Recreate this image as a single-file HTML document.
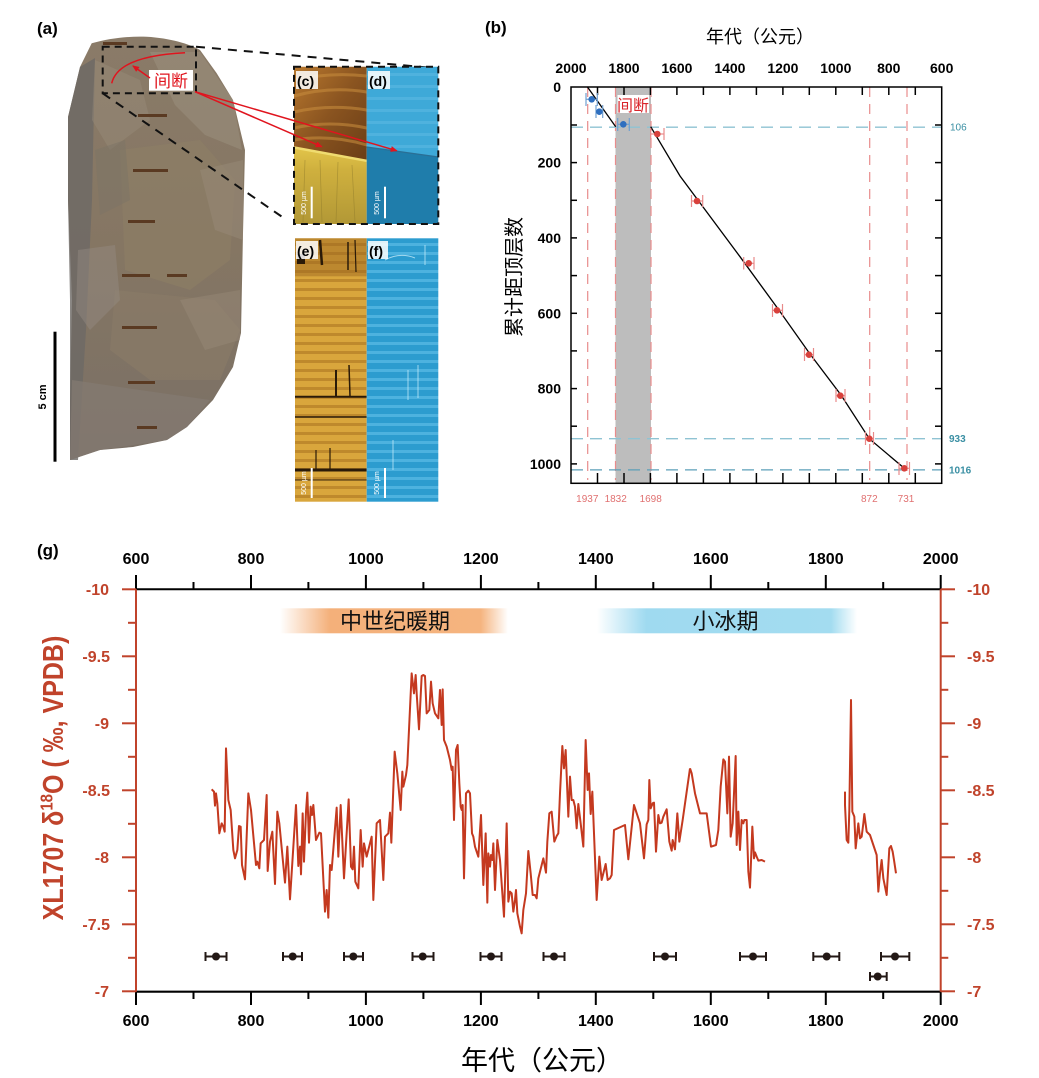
<!DOCTYPE html>
<html>
<head>
<meta charset="utf-8">
<style>
html,body{margin:0;padding:0;background:#fff;}
svg{display:block;}
text{font-family:"Liberation Sans","Noto Sans CJK SC",sans-serif;}
</style>
</head>
<body>
<svg width="1039" height="1078" viewBox="0 0 1039 1078" xmlns="http://www.w3.org/2000/svg">
<defs>
  <linearGradient id="stal" x1="0" y1="0" x2="0" y2="1">
    <stop offset="0" stop-color="#8a7b68"/>
    <stop offset="0.5" stop-color="#857663"/>
    <stop offset="1" stop-color="#7a7066"/>
  </linearGradient>
  <linearGradient id="mwp" x1="0" y1="0" x2="1" y2="0">
    <stop offset="0" stop-color="#f4b07a" stop-opacity="0"/>
    <stop offset="0.22" stop-color="#f4b07a" stop-opacity="1"/>
    <stop offset="0.88" stop-color="#f5b47f" stop-opacity="1"/>
    <stop offset="1" stop-color="#f5b47f" stop-opacity="0"/>
  </linearGradient>
  <linearGradient id="lia" x1="0" y1="0" x2="1" y2="0">
    <stop offset="0" stop-color="#9fdaf0" stop-opacity="0"/>
    <stop offset="0.19" stop-color="#9fdaf0" stop-opacity="1"/>
    <stop offset="0.9" stop-color="#a3dcf0" stop-opacity="1"/>
    <stop offset="1" stop-color="#a3dcf0" stop-opacity="0"/>
  </linearGradient>
  <linearGradient id="cyel" x1="0" y1="0" x2="0" y2="1">
    <stop offset="0" stop-color="#e3c54a"/>
    <stop offset="0.3" stop-color="#cfb03e"/>
    <stop offset="1" stop-color="#b29836"/>
  </linearGradient>
  <linearGradient id="ctop" x1="0" y1="0" x2="1" y2="1">
    <stop offset="0" stop-color="#b8782e"/>
    <stop offset="0.5" stop-color="#8a5420"/>
    <stop offset="1" stop-color="#6b3e16"/>
  </linearGradient>
  <pattern id="estripe" x="0" y="238" width="20" height="9" patternUnits="userSpaceOnUse">
    <rect x="0" y="0" width="20" height="9" fill="#d9a63c"/>
    <rect x="0" y="5" width="20" height="3" fill="#a8701e" opacity="0.55"/>
  </pattern>
  <pattern id="fstripe" x="0" y="238" width="20" height="9" patternUnits="userSpaceOnUse">
    <rect x="0" y="0" width="20" height="9" fill="#2c9ccf"/>
    <rect x="0" y="5" width="20" height="3" fill="#5bbde6" opacity="0.7"/>
  </pattern>
  <pattern id="dstripe" x="0" y="66" width="20" height="12" patternUnits="userSpaceOnUse">
    <rect x="0" y="0" width="20" height="12" fill="#3ea9d8"/>
    <rect x="0" y="7" width="20" height="3" fill="#5ab8e2" opacity="0.6"/>
  </pattern>
  <marker id="arr" markerWidth="8" markerHeight="8" refX="6" refY="3" orient="auto" markerUnits="userSpaceOnUse">
    <path d="M0,0 L7,3 L0,6 Z" fill="#e0141e"/>
  </marker>
</defs>

<!-- ================= PANEL (a) ================= -->
<text x="37" y="34" font-size="17" font-weight="bold" fill="#000">(a)</text>

<path d="M91.7,43.3 C110,38 130,36 146.7,36.7 C170,38 190,44 200,50 L216.7,73.3 L233,100 L245,150 L243,233 L241,333 L233,367 L213,400 L187,427 L167,440 L133,447 L100,450 L70,460 L70,400 L72,300 L68,200 L68,117 L80,67 Z" fill="url(#stal)"/>
<!-- facets -->
<path d="M150,52 L200,52 L233,100 L242,150 L205,135 L175,105 Z" fill="#a09483" opacity="0.45"/>
<path d="M68,117 L80,67 L95,58 L92,200 L86,330 L78,460 L70,460 L70,300 L68,200 Z" fill="#6d6965" opacity="0.8"/>
<path d="M120,150 L200,140 L235,180 L230,260 L190,290 L125,270 Z" fill="#8e7e66" opacity="0.6"/>
<path d="M115,290 L215,300 L240,330 L220,380 L150,380 L110,350 Z" fill="#8a7c68" opacity="0.6"/>
<path d="M72,380 L140,390 L210,400 L187,427 L167,440 L100,450 L70,460 Z" fill="#857b72" opacity="0.7"/>
<path d="M95,60 L140,80 L150,120 L110,150 L92,120 Z" fill="#9a8e7d" opacity="0.4"/>
<path d="M200,170 L243,160 L243,240 L215,230 Z" fill="#978a78" opacity="0.5"/>
<path d="M78,250 L115,245 L120,300 L90,330 L76,310 Z" fill="#948b82" opacity="0.45"/>
<path d="M180,300 L240,290 L240,340 L205,350 Z" fill="#9a8d7b" opacity="0.4"/>
<path d="M95,150 L125,140 L130,200 L100,215 Z" fill="#7c7366" opacity="0.5"/>
<!-- slits -->
<g fill="#5a3a22">
  <rect x="103" y="42" width="24" height="3"/>
  <rect x="138" y="114" width="29" height="3"/>
  <rect x="133" y="169" width="35" height="3"/>
  <rect x="128" y="220" width="27" height="3"/>
  <rect x="122" y="274" width="28" height="3"/>
  <rect x="167" y="274" width="20" height="3"/>
  <rect x="122" y="326" width="35" height="3"/>
  <rect x="128" y="381" width="27" height="3"/>
  <rect x="137" y="426" width="20" height="3"/>
</g>
<!-- dashed rect & zoom lines -->
<rect x="102.7" y="46.7" width="93.3" height="46.6" fill="none" stroke="#111" stroke-width="2" stroke-dasharray="7,5"/>
<line x1="196" y1="46.7" x2="436.7" y2="68.3" stroke="#111" stroke-width="2" stroke-dasharray="9,7"/>
<line x1="102.7" y1="93.3" x2="286.7" y2="220" stroke="#111" stroke-width="2" stroke-dasharray="9,7"/>
<!-- red curve -->
<path d="M111.7,83.3 Q118,56 185,52.7" fill="none" stroke="#e0141e" stroke-width="1.5"/>
<rect x="149" y="70" width="44" height="20.7" fill="#fff"/>
<text x="171" y="87" font-size="17" fill="#e0141e" text-anchor="middle">间断</text>
<line x1="150" y1="78" x2="133" y2="66" stroke="#e0141e" stroke-width="1.5" marker-end="url(#arr)"/>

<!-- scale bar -->
<rect x="53.5" y="331.7" width="3" height="130" fill="#000"/>
<text transform="translate(46,397) rotate(-90)" font-size="11" font-weight="bold" text-anchor="middle" fill="#000">5 cm</text>

<!-- panel c -->
<polygon points="294,66.7 366.7,66.7 366.7,160 294,146.7" fill="url(#ctop)"/>
<g fill="none" stroke="#c58a3c" stroke-width="3" opacity="0.6">
  <path d="M294,80 Q330,72 366.7,76"/>
  <path d="M294,96 Q330,86 366.7,92"/>
  <path d="M294,112 Q330,104 366.7,110"/>
  <path d="M294,128 Q330,120 366.7,128"/>
  <path d="M294,140 Q330,134 366.7,145"/>
</g>
<polygon points="294,146.7 366.7,160 366.7,224 294,224" fill="url(#cyel)"/>
<line x1="294" y1="147.5" x2="366.7" y2="160.8" stroke="#f0dc70" stroke-width="2.5"/>
<g stroke="#8e7a2a" stroke-width="0.8" opacity="0.5">
  <line x1="305" y1="160" x2="303" y2="222"/>
  <line x1="320" y1="160" x2="322" y2="222"/>
  <line x1="338" y1="162" x2="336" y2="222"/>
  <line x1="352" y1="165" x2="355" y2="222"/>
</g>
<!-- panel d -->
<polygon points="366.7,66.7 438.3,66.7 438.3,156.7 366.7,146.7" fill="url(#dstripe)"/>
<polygon points="366.7,146.7 438.3,156.7 438.3,224 366.7,224" fill="#1f7dab"/>
<line x1="366.7" y1="147" x2="438.3" y2="157" stroke="#2a6f95" stroke-width="1.2"/>
<rect x="294" y="66.7" width="144.3" height="157.3" fill="none" stroke="#111" stroke-width="2" stroke-dasharray="7,5"/>
<!-- scale bars c,d -->
<line x1="311.7" y1="186.7" x2="311.7" y2="218.3" stroke="#fff" stroke-width="2"/>
<text transform="translate(306,203) rotate(-90)" font-size="7" fill="#fff" text-anchor="middle">500 µm</text>
<line x1="385" y1="186.7" x2="385" y2="218.3" stroke="#fff" stroke-width="2"/>
<text transform="translate(379,203) rotate(-90)" font-size="7" fill="#fff" text-anchor="middle">500 µm</text>
<!-- labels c,d -->
<rect x="296" y="71" width="22" height="18" fill="#fff" opacity="0.85"/>
<text x="297" y="86" font-size="14" font-weight="bold" fill="#000">(c)</text>
<rect x="368" y="71" width="22" height="18" fill="#fff" opacity="0.85"/>
<text x="369" y="86" font-size="14" font-weight="bold" fill="#000">(d)</text>
<!-- red arrows to c, d -->
<line x1="195" y1="91.7" x2="321.7" y2="146.7" stroke="#e0141e" stroke-width="1.5" marker-end="url(#arr)"/>
<line x1="195" y1="91.7" x2="396.7" y2="150.7" stroke="#e0141e" stroke-width="1.5" marker-end="url(#arr)"/>

<!-- panel e -->
<rect x="295" y="238.3" width="71.7" height="263.4" fill="url(#estripe)"/>
<rect x="295" y="238.3" width="71.7" height="38" fill="#9a6420" opacity="0.45"/>
<g stroke="#2a1a08">
  <line x1="295" y1="396.7" x2="366.7" y2="396.7" stroke-width="2"/>
  <line x1="295" y1="417" x2="366.7" y2="417" stroke-width="1.5"/>
  <line x1="295" y1="470" x2="366.7" y2="470" stroke-width="3"/>
  <line x1="295" y1="480" x2="366.7" y2="480" stroke-width="1.5" opacity="0.6"/>
  <line x1="320" y1="240" x2="322" y2="265" stroke-width="2.5"/>
  <line x1="348" y1="242" x2="348" y2="270" stroke-width="1.5"/>
  <line x1="355" y1="240" x2="356" y2="272" stroke-width="1.2"/>
  <line x1="336" y1="370" x2="336" y2="396" stroke-width="2"/>
  <line x1="349" y1="365" x2="350" y2="396" stroke-width="1.5"/>
  <line x1="316" y1="450" x2="316" y2="470" stroke-width="1.2"/>
  <line x1="330" y1="448" x2="330" y2="470" stroke-width="1.2"/>
</g>
<rect x="297" y="254" width="8" height="10" fill="#2a1a08"/>
<!-- panel f -->
<rect x="366.7" y="238.3" width="71.6" height="263.4" fill="url(#fstripe)"/>
<g stroke="#bfe8f8" stroke-width="1" opacity="0.8">
  <path d="M385,260 Q400,252 415,258" fill="none"/>
  <line x1="425" y1="245" x2="425" y2="265"/>
  <line x1="408" y1="370" x2="408" y2="400"/>
  <line x1="418" y1="365" x2="418" y2="398"/>
  <line x1="393" y1="440" x2="393" y2="470"/>
</g>
<!-- scale bars e,f -->
<line x1="311.7" y1="468" x2="311.7" y2="498" stroke="#fff" stroke-width="2"/>
<text transform="translate(306,483) rotate(-90)" font-size="7" fill="#fff" text-anchor="middle">500 µm</text>
<line x1="385" y1="468" x2="385" y2="498" stroke="#fff" stroke-width="2"/>
<text transform="translate(379,483) rotate(-90)" font-size="7" fill="#fff" text-anchor="middle">500 µm</text>
<rect x="296" y="241" width="22" height="18" fill="#fff" opacity="0.85"/>
<text x="297" y="256" font-size="14" font-weight="bold" fill="#000">(e)</text>
<rect x="368" y="241" width="20" height="18" fill="#fff" opacity="0.85"/>
<text x="369" y="256" font-size="14" font-weight="bold" fill="#000">(f)</text>

<!-- ================= PANEL (b) ================= -->
<text x="485" y="33" font-size="17" font-weight="bold" fill="#000">(b)</text>
<text x="760" y="43" font-size="18" text-anchor="middle" fill="#000">年代（公元）</text>
<text transform="translate(521,277) rotate(-90)" font-size="20" text-anchor="middle" fill="#000">累计距顶层数</text>

<!-- gray band -->
<rect x="615.5" y="87" width="35.5" height="396" fill="#bdbdbd"/>
<rect x="617.5" y="95" width="31.5" height="18" fill="#fff"/>
<text x="633" y="111" font-size="16" fill="#d9242a" text-anchor="middle">间断</text>

<!-- pink dashed verticals -->
<g stroke="#e88c8c" stroke-width="1.2" stroke-dasharray="10,7">
  <line x1="587.7" y1="87" x2="587.7" y2="480"/>
  <line x1="615.5" y1="87" x2="615.5" y2="480"/>
  <line x1="651" y1="87" x2="651" y2="480"/>
  <line x1="869.7" y1="87" x2="869.7" y2="480"/>
  <line x1="907" y1="87" x2="907" y2="480"/>
</g>
<!-- blue dashed horizontals -->
<g stroke-width="1.3" stroke-dasharray="12,7">
  <line x1="571" y1="127.2" x2="941.7" y2="127.2" stroke="#8fc3d3"/>
  <line x1="571" y1="438.7" x2="941.7" y2="438.7" stroke="#8fc3d3"/>
  <line x1="571" y1="469.9" x2="941.7" y2="469.9" stroke="#5c9fb8"/>
</g>
<text x="950" y="130.5" font-size="10" fill="#3a8fa3">106</text>
<text x="949" y="442" font-size="10" font-weight="bold" fill="#3a8fa3">933</text>
<text x="949" y="473.5" font-size="10" font-weight="bold" fill="#3a8fa3">1016</text>

<!-- axes box -->
<rect x="571" y="87" width="370.7" height="396.3" fill="none" stroke="#000" stroke-width="1.5"/>
<g stroke="#000" stroke-width="1.5">
  <line x1="597.5" y1="87" x2="597.5" y2="95"/><line x1="624" y1="87" x2="624" y2="95"/>
  <line x1="650.4" y1="87" x2="650.4" y2="95"/><line x1="676.9" y1="87" x2="676.9" y2="95"/>
  <line x1="703.4" y1="87" x2="703.4" y2="95"/><line x1="729.9" y1="87" x2="729.9" y2="95"/>
  <line x1="756.4" y1="87" x2="756.4" y2="95"/><line x1="782.9" y1="87" x2="782.9" y2="95"/>
  <line x1="809.3" y1="87" x2="809.3" y2="95"/><line x1="835.8" y1="87" x2="835.8" y2="95"/>
  <line x1="862.3" y1="87" x2="862.3" y2="95"/><line x1="888.8" y1="87" x2="888.8" y2="95"/>
  <line x1="915.3" y1="87" x2="915.3" y2="95"/>
  <line x1="597.5" y1="483" x2="597.5" y2="473"/><line x1="624" y1="483" x2="624" y2="473"/>
  <line x1="650.4" y1="483" x2="650.4" y2="473"/><line x1="676.9" y1="483" x2="676.9" y2="473"/>
  <line x1="703.4" y1="483" x2="703.4" y2="473"/><line x1="729.9" y1="483" x2="729.9" y2="473"/>
  <line x1="756.4" y1="483" x2="756.4" y2="473"/><line x1="782.9" y1="483" x2="782.9" y2="473"/>
  <line x1="809.3" y1="483" x2="809.3" y2="473"/><line x1="835.8" y1="483" x2="835.8" y2="473"/>
  <line x1="862.3" y1="483" x2="862.3" y2="473"/><line x1="888.8" y1="483" x2="888.8" y2="473"/>
  <line x1="915.3" y1="483" x2="915.3" y2="473"/>
  <line x1="571" y1="125" x2="577" y2="125"/><line x1="571" y1="162.6" x2="577" y2="162.6"/>
  <line x1="571" y1="200.3" x2="577" y2="200.3"/><line x1="571" y1="237.9" x2="577" y2="237.9"/>
  <line x1="571" y1="275.6" x2="577" y2="275.6"/><line x1="571" y1="313.3" x2="577" y2="313.3"/>
  <line x1="571" y1="350.9" x2="577" y2="350.9"/><line x1="571" y1="388.6" x2="577" y2="388.6"/>
  <line x1="571" y1="426.2" x2="577" y2="426.2"/><line x1="571" y1="463.9" x2="577" y2="463.9"/>
  <line x1="941.7" y1="125" x2="935" y2="125"/><line x1="941.7" y1="162.6" x2="935" y2="162.6"/>
  <line x1="941.7" y1="200.3" x2="935" y2="200.3"/><line x1="941.7" y1="237.9" x2="935" y2="237.9"/>
  <line x1="941.7" y1="275.6" x2="935" y2="275.6"/><line x1="941.7" y1="313.3" x2="935" y2="313.3"/>
  <line x1="941.7" y1="350.9" x2="935" y2="350.9"/><line x1="941.7" y1="388.6" x2="935" y2="388.6"/>
  <line x1="941.7" y1="426.2" x2="935" y2="426.2"/><line x1="941.7" y1="463.9" x2="935" y2="463.9"/>
</g>
<g font-size="14" font-weight="bold" fill="#000" text-anchor="middle">
  <text x="571" y="73">2000</text><text x="624" y="73">1800</text>
  <text x="676.9" y="73">1600</text><text x="729.9" y="73">1400</text>
  <text x="782.9" y="73">1200</text><text x="835.8" y="73">1000</text>
  <text x="888.8" y="73">800</text><text x="941.7" y="73">600</text>
</g>
<g font-size="14" font-weight="bold" fill="#000" text-anchor="end">
  <text x="561" y="92">0</text><text x="561" y="167.6">200</text>
  <text x="561" y="242.9">400</text><text x="561" y="318.3">600</text>
  <text x="561" y="393.6">800</text><text x="561" y="468.9">1000</text>
</g>
<g font-size="10" fill="#e07070" text-anchor="middle">
  <text x="587.3" y="502">1937</text><text x="615.7" y="502">1832</text>
  <text x="650.7" y="502">1698</text><text x="869.3" y="502">872</text>
  <text x="906" y="502">731</text>
</g>

<!-- fit line -->
<polyline points="587.3,86.7 615.7,126.7" fill="none" stroke="#000" stroke-width="1.3"/>
<polyline points="650.7,126.7 680,176 740,256.7 778.5,309.5 810,354 841,395 869.3,438.7 904.3,468.3" fill="none" stroke="#000" stroke-width="1.3"/>

<!-- error bars b -->
<g stroke-width="1.2">
  <g stroke="#e88a8a">
    <line x1="650.7" y1="134" x2="664" y2="134"/><line x1="650.7" y1="128" x2="650.7" y2="140"/><line x1="664" y1="128" x2="664" y2="140"/>
    <line x1="691.5" y1="201" x2="702.7" y2="201"/><line x1="691.5" y1="195" x2="691.5" y2="207"/><line x1="702.7" y1="195" x2="702.7" y2="207"/>
    <line x1="743.7" y1="263.3" x2="754" y2="263.3"/><line x1="743.7" y1="257" x2="743.7" y2="269.5"/><line x1="754" y1="257" x2="754" y2="269.5"/>
    <line x1="772.5" y1="310.3" x2="782.5" y2="310.3"/><line x1="772.5" y1="304" x2="772.5" y2="317"/><line x1="782.5" y1="304" x2="782.5" y2="317"/>
    <line x1="804.5" y1="354.7" x2="813.5" y2="354.7"/><line x1="804.5" y1="348" x2="804.5" y2="361"/><line x1="813.5" y1="348" x2="813.5" y2="361"/>
    <line x1="836" y1="395.7" x2="845" y2="395.7"/><line x1="836" y1="389" x2="836" y2="402"/><line x1="845" y1="389" x2="845" y2="402"/>
    <line x1="865.5" y1="438.7" x2="873.5" y2="438.7"/><line x1="865.5" y1="432" x2="865.5" y2="445"/><line x1="873.5" y1="432" x2="873.5" y2="445"/>
    <line x1="899" y1="468.3" x2="909.5" y2="468.3"/><line x1="899" y1="462" x2="899" y2="475"/><line x1="909.5" y1="462" x2="909.5" y2="475"/>
  </g>
  <g stroke="#6f9fd0">
    <line x1="586" y1="99.3" x2="597.3" y2="99.3"/><line x1="586" y1="93" x2="586" y2="106"/><line x1="597.3" y1="93" x2="597.3" y2="106"/>
    <line x1="596" y1="111.7" x2="602.7" y2="111.7"/><line x1="596" y1="105" x2="596" y2="118"/><line x1="602.7" y1="105" x2="602.7" y2="118"/>
    <line x1="617.7" y1="124.3" x2="629.3" y2="124.3"/><line x1="617.7" y1="118" x2="617.7" y2="131"/><line x1="629.3" y1="118" x2="629.3" y2="131"/>
  </g>
</g>
<g fill="#d8413c">
  <circle cx="657.3" cy="134" r="3.3"/><circle cx="697" cy="201" r="3.3"/>
  <circle cx="748.7" cy="263.3" r="3.3"/><circle cx="777" cy="310.3" r="3.3"/>
  <circle cx="809" cy="354.7" r="3.3"/><circle cx="840.3" cy="395.7" r="3.3"/>
  <circle cx="869.3" cy="438.7" r="3.3"/><circle cx="904.3" cy="468.3" r="3.3"/>
</g>
<g fill="#2f6fbf">
  <circle cx="591.7" cy="99.3" r="3.3"/><circle cx="599.3" cy="111.7" r="3.3"/><circle cx="623.3" cy="124.3" r="3.3"/>
</g>

<!-- ================= PANEL (g) ================= -->
<text x="37" y="556" font-size="17" font-weight="bold" fill="#000">(g)</text>

<!-- bands -->
<rect x="280" y="608.3" width="228" height="25" fill="url(#mwp)"/>
<text x="395" y="629" font-size="22" text-anchor="middle" fill="#111">中世纪暖期</text>
<rect x="597" y="608.3" width="260" height="25" fill="url(#lia)"/>
<text x="725.5" y="629" font-size="22" text-anchor="middle" fill="#111">小冰期</text>

<!-- top axis -->
<line x1="136" y1="589.3" x2="940.7" y2="589.3" stroke="#000" stroke-width="2"/>
<g stroke="#000" stroke-width="2">
  <line x1="136" y1="589.3" x2="136" y2="575"/><line x1="193.5" y1="589.3" x2="193.5" y2="582"/>
  <line x1="251" y1="589.3" x2="251" y2="575"/><line x1="308.4" y1="589.3" x2="308.4" y2="582"/>
  <line x1="365.9" y1="589.3" x2="365.9" y2="575"/><line x1="423.4" y1="589.3" x2="423.4" y2="582"/>
  <line x1="480.9" y1="589.3" x2="480.9" y2="575"/><line x1="538.4" y1="589.3" x2="538.4" y2="582"/>
  <line x1="595.8" y1="589.3" x2="595.8" y2="575"/><line x1="653.3" y1="589.3" x2="653.3" y2="582"/>
  <line x1="710.8" y1="589.3" x2="710.8" y2="575"/><line x1="768.3" y1="589.3" x2="768.3" y2="582"/>
  <line x1="825.8" y1="589.3" x2="825.8" y2="575"/><line x1="883.2" y1="589.3" x2="883.2" y2="582"/>
  <line x1="940.7" y1="589.3" x2="940.7" y2="575"/>
</g>
<g font-size="16" font-weight="bold" fill="#000" text-anchor="middle">
  <text x="136" y="564">600</text><text x="251" y="564">800</text>
  <text x="365.9" y="564">1000</text><text x="480.9" y="564">1200</text>
  <text x="595.8" y="564">1400</text><text x="710.8" y="564">1600</text>
  <text x="825.8" y="564">1800</text><text x="940.7" y="564">2000</text>
</g>

<!-- bottom axis -->
<line x1="136" y1="991.7" x2="940.7" y2="991.7" stroke="#000" stroke-width="2.2"/>
<g stroke="#000" stroke-width="2">
  <line x1="136" y1="991.7" x2="136" y2="1005"/><line x1="193.5" y1="991.7" x2="193.5" y2="999"/>
  <line x1="251" y1="991.7" x2="251" y2="1005"/><line x1="308.4" y1="991.7" x2="308.4" y2="999"/>
  <line x1="365.9" y1="991.7" x2="365.9" y2="1005"/><line x1="423.4" y1="991.7" x2="423.4" y2="999"/>
  <line x1="480.9" y1="991.7" x2="480.9" y2="1005"/><line x1="538.4" y1="991.7" x2="538.4" y2="999"/>
  <line x1="595.8" y1="991.7" x2="595.8" y2="1005"/><line x1="653.3" y1="991.7" x2="653.3" y2="999"/>
  <line x1="710.8" y1="991.7" x2="710.8" y2="1005"/><line x1="768.3" y1="991.7" x2="768.3" y2="999"/>
  <line x1="825.8" y1="991.7" x2="825.8" y2="1005"/><line x1="883.2" y1="991.7" x2="883.2" y2="999"/>
  <line x1="940.7" y1="991.7" x2="940.7" y2="1005"/>
</g>
<g font-size="16" font-weight="bold" fill="#000" text-anchor="middle">
  <text x="136" y="1026">600</text><text x="251" y="1026">800</text>
  <text x="365.9" y="1026">1000</text><text x="480.9" y="1026">1200</text>
  <text x="595.8" y="1026">1400</text><text x="710.8" y="1026">1600</text>
  <text x="825.8" y="1026">1800</text><text x="940.7" y="1026">2000</text>
</g>
<text x="542" y="1070" font-size="27" text-anchor="middle" fill="#000">年代（公元）</text>

<!-- left & right red axes -->
<g stroke="#c0432b" stroke-width="2">
  <line x1="136" y1="589.3" x2="136" y2="991.7"/>
  <line x1="940.7" y1="589.3" x2="940.7" y2="991.7"/>
  <line x1="122" y1="589.3" x2="136" y2="589.3"/><line x1="128" y1="622.8" x2="136" y2="622.8"/>
  <line x1="122" y1="656.3" x2="136" y2="656.3"/><line x1="128" y1="689.8" x2="136" y2="689.8"/>
  <line x1="122" y1="723.3" x2="136" y2="723.3"/><line x1="128" y1="756.8" x2="136" y2="756.8"/>
  <line x1="122" y1="790.3" x2="136" y2="790.3"/><line x1="128" y1="823.8" x2="136" y2="823.8"/>
  <line x1="122" y1="857.3" x2="136" y2="857.3"/><line x1="128" y1="890.8" x2="136" y2="890.8"/>
  <line x1="122" y1="924.3" x2="136" y2="924.3"/><line x1="128" y1="957.8" x2="136" y2="957.8"/>
  <line x1="122" y1="991.3" x2="136" y2="991.3"/>
  <line x1="940.7" y1="589.3" x2="955" y2="589.3"/><line x1="940.7" y1="622.8" x2="948.3" y2="622.8"/>
  <line x1="940.7" y1="656.3" x2="955" y2="656.3"/><line x1="940.7" y1="689.8" x2="948.3" y2="689.8"/>
  <line x1="940.7" y1="723.3" x2="955" y2="723.3"/><line x1="940.7" y1="756.8" x2="948.3" y2="756.8"/>
  <line x1="940.7" y1="790.3" x2="955" y2="790.3"/><line x1="940.7" y1="823.8" x2="948.3" y2="823.8"/>
  <line x1="940.7" y1="857.3" x2="955" y2="857.3"/><line x1="940.7" y1="890.8" x2="948.3" y2="890.8"/>
  <line x1="940.7" y1="924.3" x2="955" y2="924.3"/><line x1="940.7" y1="957.8" x2="948.3" y2="957.8"/>
  <line x1="940.7" y1="991.3" x2="955" y2="991.3"/>
</g>
<g font-size="16" font-weight="bold" fill="#c0432b" text-anchor="end">
  <text x="109" y="595">-10</text><text x="110" y="662">-9.5</text>
  <text x="109" y="729">-9</text><text x="110" y="796">-8.5</text>
  <text x="109" y="863">-8</text><text x="110" y="930">-7.5</text>
  <text x="109" y="997">-7</text>
</g>
<g font-size="16" font-weight="bold" fill="#c0432b">
  <text x="967" y="595">-10</text><text x="967" y="662">-9.5</text>
  <text x="967" y="729">-9</text><text x="967" y="796">-8.5</text>
  <text x="967" y="863">-8</text><text x="967" y="930">-7.5</text>
  <text x="967" y="997">-7</text>
</g>
<text transform="translate(53,778) rotate(-90) scale(1,1.15)" font-size="25" font-weight="bold" fill="#c0432b" text-anchor="middle" y="8.5">XL1707 δ<tspan font-size="15" dy="-9">18</tspan><tspan dy="9">O ( ‰, VPDB)</tspan></text>

<!-- series -->
<g fill="none" stroke="#c4391f" stroke-width="2" stroke-linejoin="round">
<polyline vector-effect="non-scaling-stroke" transform="translate(190,660) scale(0.33333)" points="65,388 72,395 75,437 78,400 82,430 88,520 95,490 100,500 104,515 108,265 115,420 122,450 130,570 135,595 142,570 147,498 152,500 156,615 165,658 175,400 183,450 198,615 202,605 208,625 212,550 222,540 230,405 233,633 240,545 247,515 255,672 262,455 268,490 285,668 292,560 300,718 318,435 325,618 330,560 333,643 338,460 342,605 348,455 352,398 357,548 362,440 366,465 370,435 378,540 388,518 393,520 405,755 410,690 415,773 420,615 425,630 440,443 445,590 452,435 462,655 476,418 483,620 488,628 492,560 496,665 505,685 512,510 518,620 522,550 530,590 545,530 550,720 560,490 570,480 580,660 585,530 595,520 600,458 604,548 614,275 622,340 632,450 637,335 640,380 648,345 652,315 665,40 672,100 677,45 680,100 687,208 695,48 700,45 705,48 710,160 718,150 723,65 728,130 735,160 745,175 750,88"/>
<polyline vector-effect="non-scaling-stroke" transform="translate(440,660) scale(0.33333)" points="0,88 5,195 8,88 12,240 20,260 30,300 35,330 38,320 42,480 48,270 53,255 58,370 62,440 65,450 68,435 72,655 78,400 85,392 90,400 96,520 100,530 105,560 110,575 115,590 123,465 130,675 137,520 142,728 145,580 150,620 153,585 157,600 160,550 165,690 172,540 180,600 192,770 200,490 205,725 210,695 215,700 220,755 225,720 228,690 232,760 240,800 245,820 250,750 258,700 265,573 272,640 278,705 285,705 290,715 295,655 310,595 318,638 322,545 328,460 335,455 343,545 350,528 355,520 360,400 367,258 372,325 377,270 385,470 390,350 395,420 400,420 405,440 410,505 415,432 422,490 430,560 433,420 437,240 443,390 447,340 452,462 457,395 470,720 478,590 485,660 490,640 497,612 503,660 510,655 515,645 522,510 555,495 565,598 582,435 600,490 612,595 620,493 625,480 628,360 632,445 638,430 642,428 648,575 655,465 660,490 665,488 670,470 680,448 688,545 695,572 698,540 705,568 712,460 718,545 728,480 750,325"/>
<polyline vector-effect="non-scaling-stroke" transform="translate(690,660) scale(0.33333)" points="0,325 5,340 15,400 30,460 50,460 63,560 78,555 85,510 92,380 100,298 105,305 112,460 117,290 122,530 128,490 137,288 140,555 145,455 150,570 155,480 160,490 163,480 170,480 175,635 180,683 187,500 192,595 195,577 200,590 205,602 215,600 225,605"/>
<polyline vector-effect="non-scaling-stroke" transform="translate(690,660) scale(0.33333)" points="465,395 465,435 470,540 475,548 478,450 483,120 487,455 493,470 497,565 505,490 510,535 515,530 520,490 523,462 530,515 540,525 550,555 560,585 565,695 570,640 575,600 580,655 590,705 598,565 603,558 608,575 612,600 618,640"/>
</g>

<!-- dating points -->
<g stroke="#231815" stroke-width="2">
  <line x1="205.5" y1="956.5" x2="226.5" y2="956.5"/><line x1="205.5" y1="952" x2="205.5" y2="961"/><line x1="226.5" y1="952" x2="226.5" y2="961"/>
  <line x1="283" y1="956.5" x2="302" y2="956.5"/><line x1="283" y1="952" x2="283" y2="961"/><line x1="302" y1="952" x2="302" y2="961"/>
  <line x1="344" y1="956.5" x2="363" y2="956.5"/><line x1="344" y1="952" x2="344" y2="961"/><line x1="363" y1="952" x2="363" y2="961"/>
  <line x1="412.5" y1="956.5" x2="433.5" y2="956.5"/><line x1="412.5" y1="952" x2="412.5" y2="961"/><line x1="433.5" y1="952" x2="433.5" y2="961"/>
  <line x1="480.5" y1="956.5" x2="501.5" y2="956.5"/><line x1="480.5" y1="952" x2="480.5" y2="961"/><line x1="501.5" y1="952" x2="501.5" y2="961"/>
  <line x1="543.5" y1="956.5" x2="564.5" y2="956.5"/><line x1="543.5" y1="952" x2="543.5" y2="961"/><line x1="564.5" y1="952" x2="564.5" y2="961"/>
  <line x1="654" y1="956.5" x2="676" y2="956.5"/><line x1="654" y1="952" x2="654" y2="961"/><line x1="676" y1="952" x2="676" y2="961"/>
  <line x1="740" y1="956.5" x2="766" y2="956.5"/><line x1="740" y1="952" x2="740" y2="961"/><line x1="766" y1="952" x2="766" y2="961"/>
  <line x1="813.3" y1="956.5" x2="839.3" y2="956.5"/><line x1="813.3" y1="952" x2="813.3" y2="961"/><line x1="839.3" y1="952" x2="839.3" y2="961"/>
  <line x1="881" y1="956.5" x2="909.3" y2="956.5"/><line x1="881" y1="952" x2="881" y2="961"/><line x1="909.3" y1="952" x2="909.3" y2="961"/>
  <line x1="870" y1="976.5" x2="886.7" y2="976.5"/><line x1="870" y1="972" x2="870" y2="981"/><line x1="886.7" y1="972" x2="886.7" y2="981"/>
</g>
<g fill="#231815">
  <circle cx="216" cy="956.5" r="4"/><circle cx="292.7" cy="956.5" r="4"/>
  <circle cx="353.3" cy="956.5" r="4"/><circle cx="422.7" cy="956.5" r="4"/>
  <circle cx="491" cy="956.5" r="4"/><circle cx="554" cy="956.5" r="4"/>
  <circle cx="665" cy="956.5" r="4"/><circle cx="753" cy="956.5" r="4"/>
  <circle cx="826.7" cy="956.5" r="4"/><circle cx="895" cy="956.5" r="4"/>
  <circle cx="877.7" cy="976.5" r="4"/>
</g>
</svg>
</body>
</html>
